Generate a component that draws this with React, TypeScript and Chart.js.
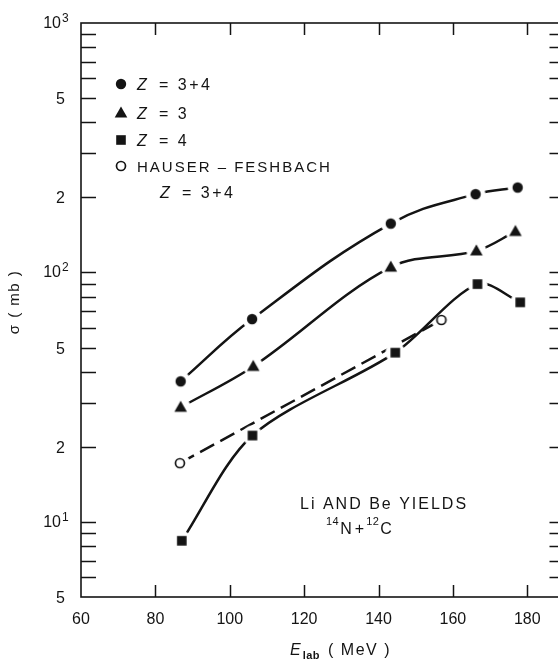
import React, { useEffect, useRef } from "react";
import { Chart, registerables } from "chart.js";

Chart.register(...registerables);

// Li and Be yields, 14N + 12C: cross sections (mb) against lab energy (MeV)
const energyZ34 = [86.8, 106.0, 143.3, 166.1, 177.4];
const sigmaZ34 = [36.6, 65.0, 157, 206, 219];

const energyZ3 = [86.8, 106.3, 143.3, 166.3, 176.8];
const sigmaZ3 = [28.8, 42.0, 105, 122, 146];

const energyZ4 = [87.1, 106.1, 144.5, 166.6, 178.1];
const sigmaZ4 = [8.4, 22.2, 47.7, 89.8, 75.9];

const energyHF = [86.6, 156.9];
const sigmaHF = [17.2, 64.5];

const xTickValues = [60, 80, 100, 120, 140, 160, 180];
const yTickValues = [5, 10, 20, 50, 100, 200, 500, 1000];
// mantissa label, or decade exponent written as 10^n
const yTickLabels = ["5", "1", "2", "5", "2", "2", "5", "3"];
const yTickIsDecade = [false, true, false, false, true, false, false, true];

const legendLabels = ["= 3+4", "= 3", "= 4"];
const hfLabel = "HAUSER – FESHBACH";
const hfSubLabel = "= 3+4";

const INK = "#141414";
const FONT = "'Liberation Sans', Arial, sans-serif";

type MarkerKind = "circle" | "triangle" | "square" | "open";

function makeMarker(kind: MarkerKind): HTMLCanvasElement {
  const size = 24;
  const c = document.createElement("canvas");
  c.width = size;
  c.height = size;
  const g = c.getContext("2d")!;
  const m = size / 2;
  // white halo so curves stop short of the symbol
  g.fillStyle = "#fff";
  g.beginPath();
  g.arc(m, m, 10, 0, Math.PI * 2);
  g.fill();
  g.fillStyle = INK;
  g.strokeStyle = INK;
  if (kind === "circle") {
    g.beginPath();
    g.arc(m, m, 5.2, 0, Math.PI * 2);
    g.fill();
  } else if (kind === "triangle") {
    g.beginPath();
    g.moveTo(m, m - 6.5);
    g.lineTo(m + 6.3, m + 4.5);
    g.lineTo(m - 6.3, m + 4.5);
    g.closePath();
    g.fill();
  } else if (kind === "square") {
    g.fillRect(m - 4.8, m - 4.8, 9.6, 9.6);
  } else {
    g.lineWidth = 1.7;
    g.beginPath();
    g.arc(m, m, 4.5, 0, Math.PI * 2);
    g.stroke();
  }
  return c;
}

function toPoints(xs: number[], ys: number[]) {
  return xs.map((x, i) => ({ x, y: ys[i] }));
}

export default function App() {
  const canvasRef = useRef<HTMLCanvasElement | null>(null);

  useEffect(() => {
    const canvas = canvasRef.current;
    if (!canvas) return;

    const markers = {
      circle: makeMarker("circle"),
      triangle: makeMarker("triangle"),
      square: makeMarker("square"),
      open: makeMarker("open"),
    };

    const textRun = (
      ctx: CanvasRenderingContext2D,
      text: string,
      x: number,
      y: number,
      font: string,
      spacing = 0
    ) => {
      ctx.font = font;
      (ctx as any).letterSpacing = spacing + "px";
      ctx.fillText(text, x, y);
      const w = ctx.measureText(text).width;
      (ctx as any).letterSpacing = "0px";
      return x + w;
    };

    const decorations = {
      id: "decorations",
      afterDraw(chart: Chart) {
        const ctx = chart.ctx;
        const { left, right, top, bottom } = chart.chartArea;
        const xs = chart.scales.x;
        const ys = chart.scales.y;
        ctx.save();
        ctx.strokeStyle = INK;
        ctx.fillStyle = INK;

        // frame
        ctx.lineWidth = 1.6;
        ctx.strokeRect(left, top, right - left, bottom - top);

        // inward ticks: every mantissa on the log axis, both sides
        ctx.lineWidth = 1.5;
        ctx.beginPath();
        for (let d = 0; d <= 3; d++) {
          for (let m = 1; m <= 9; m++) {
            const v = m * Math.pow(10, d);
            if (v <= 5 || v >= 1000) continue;
            const py = Math.round(ys.getPixelForValue(v)) + 0.5;
            ctx.moveTo(left, py);
            ctx.lineTo(left + 15, py);
            ctx.moveTo(right - 15, py);
            ctx.lineTo(right, py);
          }
        }
        for (const v of xTickValues) {
          if (v <= 60) continue;
          const px = Math.round(xs.getPixelForValue(v)) + 0.5;
          ctx.moveTo(px, bottom);
          ctx.lineTo(px, bottom - 12);
          ctx.moveTo(px, top);
          ctx.lineTo(px, top + 12);
        }
        ctx.stroke();

        // y tick labels (decades as 10 with a raised exponent)
        ctx.textBaseline = "alphabetic";
        yTickValues.forEach((v, i) => {
          const py = ys.getPixelForValue(v);
          if (yTickIsDecade[i]) {
            ctx.textAlign = "right";
            textRun(ctx, "10", 61, py + 5, `16px ${FONT}`);
            ctx.textAlign = "left";
            textRun(ctx, yTickLabels[i], 62, py - 1, `12px ${FONT}`);
          } else {
            ctx.textAlign = "right";
            textRun(ctx, yTickLabels[i], 65, py + 6, `16px ${FONT}`);
          }
        });

        // legend
        const lx = 121;
        const tx = 137;
        const rows = [84, 113, 140, 166];
        const icons = [markers.circle, markers.triangle, markers.square, markers.open];
        ctx.textAlign = "left";
        rows.forEach((ry, i) => {
          const img = icons[i];
          ctx.drawImage(img, lx - img.width / 2, ry - img.height / 2);
          if (i < 3) {
            textRun(ctx, "Z", tx, ry + 6, `italic 16px ${FONT}`);
            textRun(ctx, legendLabels[i], tx + 22, ry + 6, `16px ${FONT}`, 2.5);
          } else {
            textRun(ctx, hfLabel, tx, ry + 6, `15px ${FONT}`, 2);
          }
        });
        textRun(ctx, "Z", 160, 198, `italic 16px ${FONT}`);
        textRun(ctx, hfSubLabel, 182, 198, `16px ${FONT}`, 2.5);

        // annotation
        textRun(ctx, "Li AND Be YIELDS", 300, 509, `16px ${FONT}`, 2);
        let ax = textRun(ctx, "14", 326, 525, `11px ${FONT}`, 0.5);
        ax = textRun(ctx, "N", ax + 1, 534, `16px ${FONT}`, 1);
        ax = textRun(ctx, "+", ax + 2, 534, `16px ${FONT}`, 1);
        ax = textRun(ctx, "12", ax + 1, 525, `11px ${FONT}`, 0.5);
        textRun(ctx, "C", ax + 1, 534, `16px ${FONT}`, 1);

        // x-axis title
        let ex = textRun(ctx, "E", 290, 655, `italic 16px ${FONT}`);
        ex = textRun(ctx, "lab", ex + 2, 659, `bold 11px ${FONT}`, 0.5);
        textRun(ctx, "( MeV )", ex + 8, 655, `16px ${FONT}`, 1.5);

        // y-axis title
        ctx.translate(19, 302);
        ctx.rotate(-Math.PI / 2);
        ctx.textAlign = "center";
        ctx.font = `15px ${FONT}`;
        (ctx as any).letterSpacing = "1.5px";
        ctx.fillText("σ ( mb )", 0, 0);
        ctx.restore();
      },
    };

    const lineBase = {
      borderColor: INK,
      borderWidth: 2.5,
      fill: false,
      pointRadius: 8,
      pointHoverRadius: 8,
    };

    const chart = new Chart(canvas, {
      type: "line",
      data: {
        datasets: [
          {
            ...lineBase,
            label: "Z = 3+4",
            data: toPoints(energyZ34, sigmaZ34),
            pointStyle: markers.circle,
            tension: 0.4,
          },
          {
            ...lineBase,
            label: "Z = 3",
            data: toPoints(energyZ3, sigmaZ3),
            pointStyle: markers.triangle,
            tension: 0.35,
          },
          {
            ...lineBase,
            label: "Z = 4",
            data: toPoints(energyZ4, sigmaZ4),
            pointStyle: markers.square,
            tension: 0.3,
          },
          {
            ...lineBase,
            label: "HAUSER-FESHBACH Z = 3+4",
            data: toPoints(energyHF, sigmaHF),
            pointStyle: markers.open,
            borderDash: [16, 7],
            tension: 0,
          },
        ] as any,
      },
      options: {
        responsive: false,
        animation: false,
        events: [],
        layout: { padding: { top: 23, right: 9, left: 0, bottom: 0 } },
        plugins: {
          legend: { display: false },
          tooltip: { enabled: false },
        },
        scales: {
          x: {
            type: "linear",
            min: 60,
            max: 190,
            grid: { display: false },
            border: { display: false },
            ticks: {
              color: INK,
              font: { family: FONT, size: 16 },
              padding: 5,
              autoSkip: false,
              maxRotation: 0,
            },
            afterBuildTicks: (s: any) => {
              s.ticks = xTickValues.map((v) => ({ value: v }));
            },
            afterFit: (s: any) => {
              s.height = 62;
            },
          },
          y: {
            type: "logarithmic",
            min: 5,
            max: 1000,
            grid: { display: false },
            border: { display: false },
            ticks: { display: false },
            afterBuildTicks: (s: any) => {
              s.ticks = yTickValues.map((v) => ({ value: v }));
            },
            afterFit: (s: any) => {
              s.width = 81;
            },
          },
        },
      },
      plugins: [decorations],
    });

    return () => chart.destroy();
  }, []);

  return (
    <div
      style={{
        position: "fixed",
        left: 0,
        top: 0,
        width: 558,
        height: 659,
        overflow: "hidden",
        background: "#fff",
      }}
    >
      <canvas ref={canvasRef} width={575} height={659} />
    </div>
  );
}
